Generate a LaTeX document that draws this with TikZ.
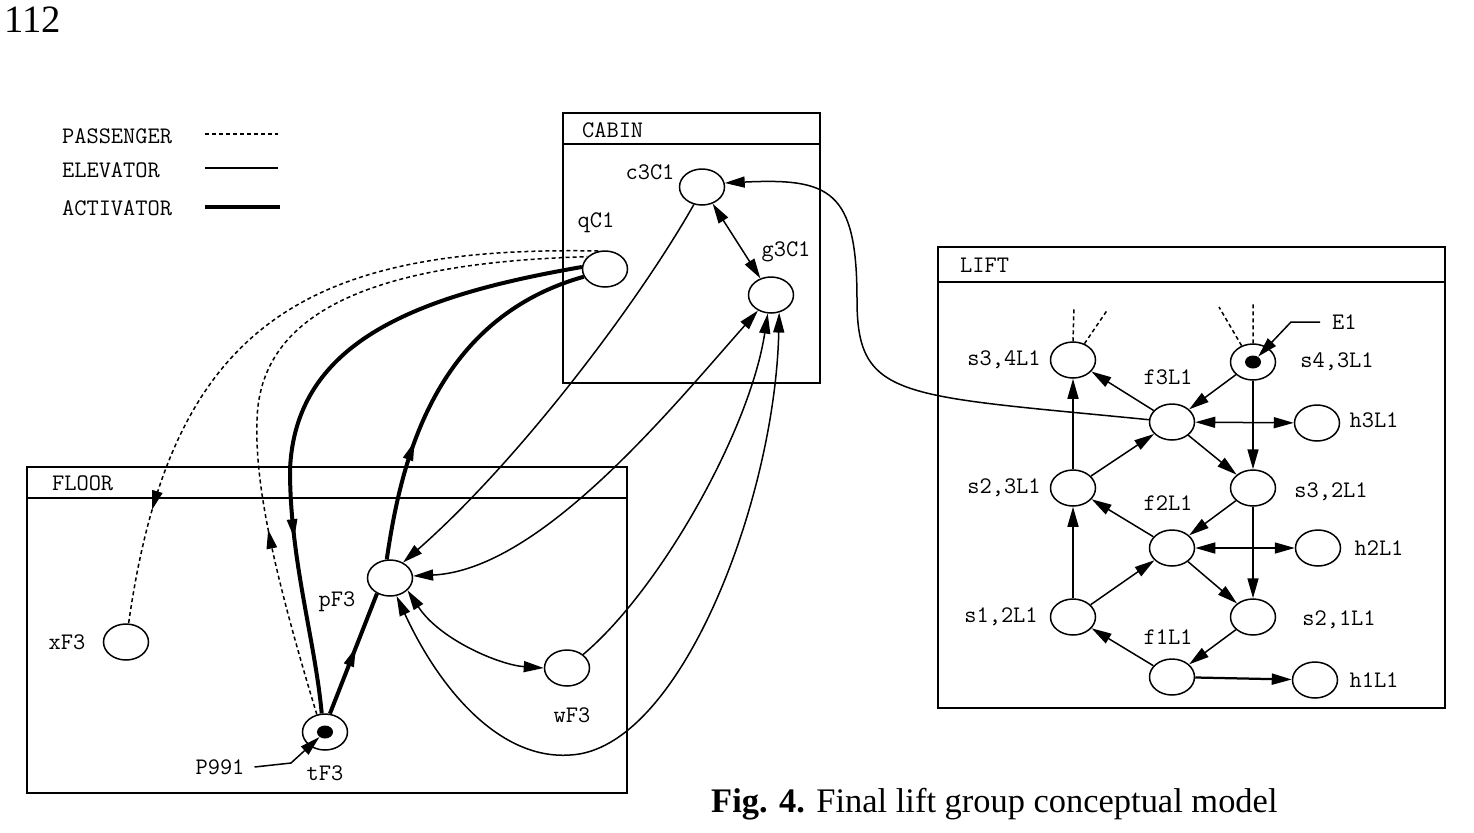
\documentclass[tikz,border=0pt]{standalone}
\usepackage{fontspec}
\setmainfont{Liberation Serif}
\usetikzlibrary{shapes.geometric,arrows.meta,decorations.markings}

\newcommand\plfont{\ttfamily\fontsize{13.5}{15}\selectfont}

\tikzset{
  place/.style={draw, ellipse, line width=0.3mm, minimum width=9mm, minimum height=7.2mm, inner sep=0pt},
  token/.style={fill, ellipse, minimum width=3.2mm, minimum height=2.6mm, inner sep=0pt},
  lbl/.style={font=\plfont, inner sep=1pt},
  box/.style={line width=0.4mm},
  elev/.style={line width=0.3mm},
  pass/.style={line width=0.3mm, dash pattern=on 0.8mm off 0.6mm},
  activ/.style={line width=0.8mm},
  midarrow/.style={postaction={decorate, decoration={markings,
      mark=at position #1 with {\arrow[solid, line width=0.3mm]{Triangle[length=3.8mm, width=2.1mm]}}}}},
}

\begin{document}
\begin{tikzpicture}[x=0.2mm, y=-0.2mm, >={Triangle[length=4mm, width=2.2mm]}]
\useasboundingbox (0,0) rectangle (1474,832);

\node[font=\fontsize{22}{24}\selectfont] (pageno) at (33,20) {112};

\node[lbl, anchor=west] (legpass) at (60,136) {PASSENGER};
\node[lbl, anchor=west] (legelev) at (60,170) {ELEVATOR};
\node[lbl, anchor=west] (legact) at (60,208) {ACTIVATOR};
\draw[pass] (205,134) -- (278,134);
\draw[elev] (205,168) -- (278,168);
\draw[activ] (205,207) -- (280,207);

\draw[box] (563,113) rectangle (820,383) (563,144) -- (820,144);
\draw[box] (27,467) rectangle (627,793) (27,498) -- (627,498);
\draw[box] (938,247) rectangle (1445,708) (938,282) -- (1445,282);
\node[lbl, anchor=west] (cabinhd) at (580,130) {CABIN};
\node[lbl, anchor=west] (floorhd) at (50,483) {FLOOR};
\node[lbl, anchor=west] (lifthd) at (958,265) {LIFT};

\foreach \n/\x/\y in {qC1/605/269, c3C1/702/187, g3C1/771/295, pF3/390/578,
    xF3/126/642, tF3/325/732, wF3/567/668, s34/1073/360, s43/1253/362,
    f3/1172/422, h3/1317/423, s23/1073/488, s32/1253/488, f2/1172/548,
    h2/1318/548, s12/1073/617, s21/1253/617, f1/1172/677, h1/1315/680}
  \node[place] (\n) at (\x,\y) {};
\node[token] (tF3tok) at (tF3) {};
\node[token] (s43tok) at (s43) {};

\foreach \n/\x/\y/\t in {qC1l/596/223/qC1, c3C1l/650/172/c3C1, g3C1l/786/252/g3C1,
    xF3l/67/642/xF3, pF3l/337/602/pF3, tF3l/325/773/tF3, wF3l/572/715/wF3,
    s34l/1004/360/{s3,4L1}, s43l/1337/362/{s4,3L1}, f3l/1168/377/f3L1, h3l/1374/420/h3L1,
    s23l/1004/488/{s2,3L1}, f2l/1168/503/f2L1, s32l/1331/492/{s3,2L1}, h2l/1379/548/h2L1,
    s12l/1001/617/{s1,2L1}, s21l/1339/620/{s2,1L1}, f1l/1168/637/f1L1, h1l/1374/680/h1L1}
  \node[lbl] (\n) at (\x,\y) {\t};

\foreach \a/\b in {f3/s34, s23/s34, s23/f3, s43/f3, s43/s32, f3/s32, f2/s23, s12/s23,
    s12/f2, s32/f2, s32/s21, f2/s21, f1/s12, s21/f1}
  \draw[elev,->] (\a) -- (\b);
\draw[elev,<->] (f3) -- (h3);
\draw[elev,<->] (f2) -- (h2);
\draw[elev,->,line width=0.45mm] (f1) -- (h1);

\coordinate (s34a) at (1074,307);
\coordinate (s34b) at (1108,309);
\coordinate (s43a) at (1253,302);
\coordinate (s43b) at (1219,307);
\draw[pass] (s34.north) -- (s34a) (s34.55) -- (s34b);
\draw[pass] (s43.north) -- (s43a) (s43.125) -- (s43b);

\node[lbl, anchor=west] (E1) at (1330,322) {E1};
\coordinate (E1k) at (1291,322);
\draw[elev,->] ([xshift=-2mm]E1.west) -- (E1k) -- (s43tok);

\node[lbl] (P991) at (220,767) {P991};
\coordinate (P991k) at (291,763);
\draw[elev,->] ([xshift=1.6mm]P991.east) -- (P991k) -- (tF3tok);

\draw[pass, midarrow=0.83] (qC1.110) .. controls (300,245) and (170,330) .. (xF3);
\draw[pass, midarrow=0.27] (tF3.115) .. controls (270,560) and (255,480) .. (257,420)
  .. controls (260,300) and (400,262) .. (qC1.145);

\draw[activ, midarrow=0.72] (qC1.175) .. controls (420,295) and (295,340) .. (290,470)
  .. controls (290,560) and (315,640) .. (tF3.100);
\draw[activ, midarrow=0.55] (tF3.75) -- (pF3.-130);
\draw[activ, midarrow=0.33] (pF3.100) .. controls (400,470) and (430,320) .. (qC1.200);

\draw[elev,<->] (c3C1) -- (g3C1);
\draw[elev,->] (c3C1.-115) .. controls (640,300) and (520,460) .. (pF3.50);
\draw[elev,<->] (g3C1.-130) .. controls (670,410) and (540,570) .. (pF3.5);
\draw[elev,->] (wF3.40) .. controls (660,590) and (750,430) .. (g3C1.-100);
\draw[elev,<->] (pF3.-70) .. controls (440,690) and (500,760) .. (570,755)
  .. controls (680,750) and (775,500) .. (g3C1.-65);
\draw[elev,<->] (pF3.-35) .. controls (440,640) and (500,665) .. (wF3.west);
\draw[elev,->] (f3) .. controls (900,395) and (857,400) .. (857,300)
  .. controls (857,190) and (830,178) .. (c3C1.10);

\node[anchor=base west, font=\fontsize{19.6}{22}\selectfont] (caption) at (705,812)
  {\textbf{Fig. 4.} Final lift group conceptual model};
\end{tikzpicture}
\end{document}
